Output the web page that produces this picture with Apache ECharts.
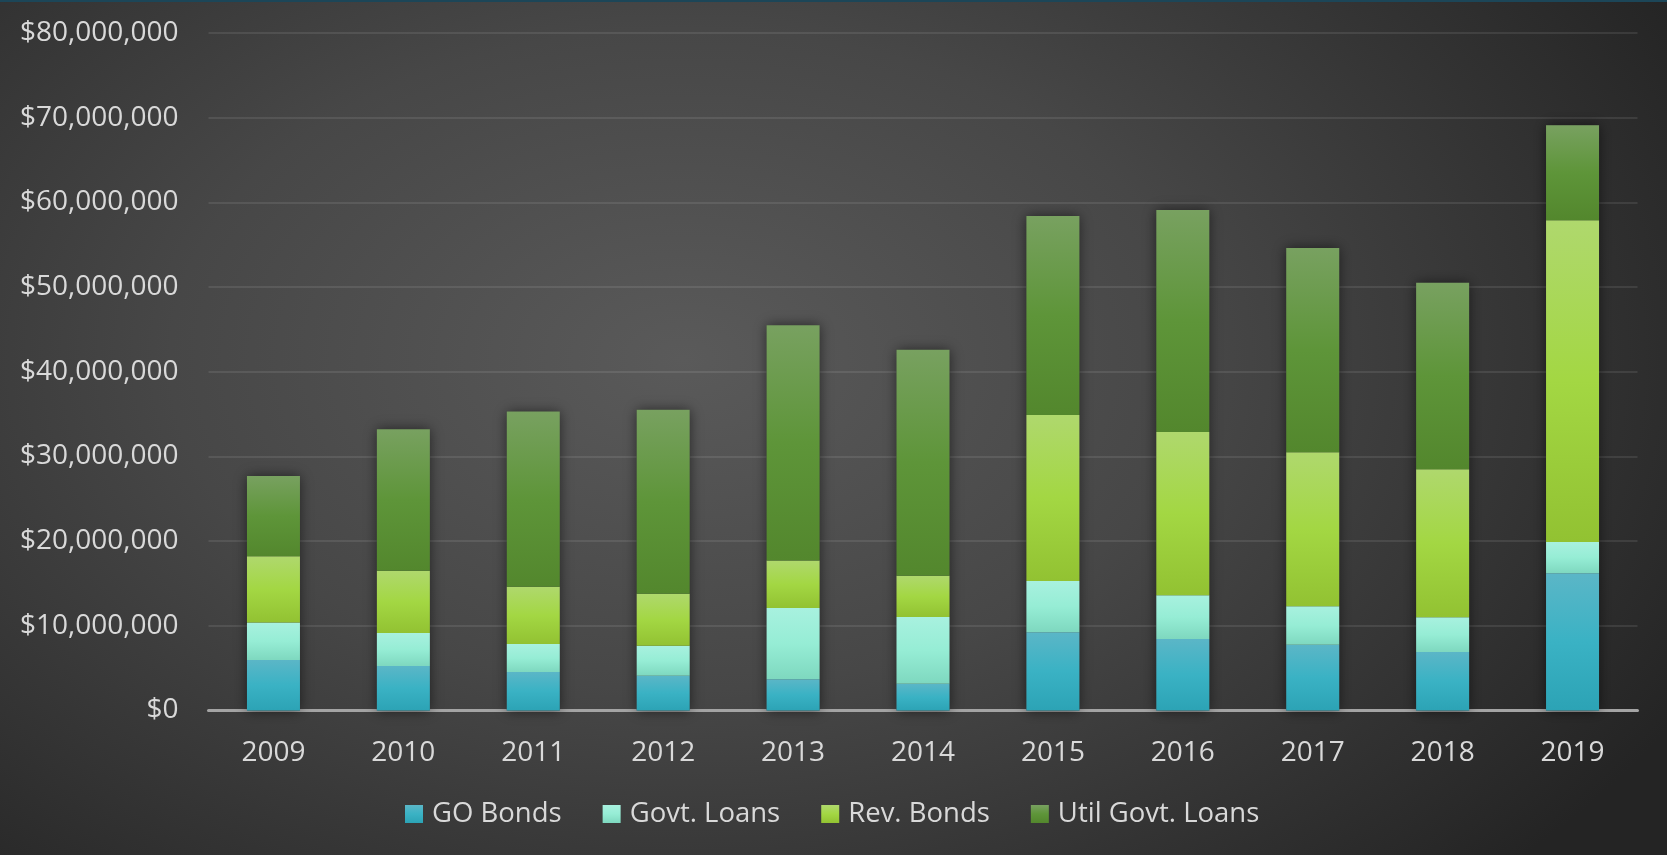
<!DOCTYPE html>
<html>
<head>
<meta charset="utf-8">
<title>Debt Issuance by Type, 2009–2019</title>
<script src="https://cdn.jsdelivr.net/npm/echarts@6/dist/echarts.min.js"></script>
<style>
  html, body { margin: 0; padding: 0; background: #2a2a2a; }
  #chart { width: 1667px; height: 855px; }
</style>
</head>
<body>
<div id="chart"></div>
<script>
// Fiscal years on the category axis
const years = ['2009', '2010', '2011', '2012', '2013', '2014', '2015', '2016', '2017', '2018', '2019'];

// Annual amounts by debt type (USD)
const goBonds      = [5950000, 5250000, 4550000, 4100000, 3700000, 3150000, 9250000, 8450000, 7750000, 6900000, 16200000];
const govtLoans    = [4450000, 3900000, 3300000, 3550000, 8400000, 7900000, 6050000, 5150000, 4550000, 4100000, 3700000];
const revBonds     = [7800000, 7350000, 6750000, 6150000, 5600000, 4850000, 19600000, 19300000, 18200000, 17500000, 38000000];
const utilGovtLoans = [9500000, 16700000, 20700000, 21700000, 27800000, 26700000, 23500000, 26200000, 24100000, 22000000, 11200000];

// Value axis ticks
const yStep = 10000000;
const yTickLabels = ['$0', '$10,000,000', '$20,000,000', '$30,000,000', '$40,000,000',
                     '$50,000,000', '$60,000,000', '$70,000,000', '$80,000,000'];

const seriesNames = ['GO Bonds', 'Govt. Loans', 'Rev. Bonds', 'Util Govt. Loans'];

// Column totals, used only for the soft shadow drawn behind each stack
const totals = years.map((_, i) => goBonds[i] + govtLoans[i] + revBonds[i] + utilGovtLoans[i]);

const FONT = '"Open Sans", "Noto Sans", sans-serif';
const TEXT = '#d9d9d9';

function vGrad(stops) {
  return {
    type: 'linear', x: 0, y: 0, x2: 0, y2: 1,
    colorStops: stops.map((c, i) => ({ offset: i / (stops.length - 1), color: c }))
  };
}

const palette = [
  vGrad(['#5bb6c7', '#3ab2c4', '#2ca3b5']),
  vGrad(['#a8f1df', '#96edd5', '#7ed8bf']),
  vGrad(['#afd86d', '#a3d743', '#92c232']),
  vGrad(['#78a160', '#5e9539', '#53872d'])
];

const W = 1667, H = 855, SX = 1.55;

const chart = echarts.init(document.getElementById('chart'), null, { renderer: 'canvas' });

function stackSeries(name, data, idx) {
  return {
    name: name,
    type: 'bar',
    stack: 'debt',
    data: data,
    barWidth: 53,
    z: 3,
    itemStyle: { color: palette[idx] },
    emphasis: { disabled: true }
  };
}

chart.setOption({
  animation: false,
  backgroundColor: '#2a2a2a',
  textStyle: { fontFamily: FONT },
  graphic: [
    {
      type: 'rect',
      z: -10,
      silent: true,
      scaleX: SX,
      shape: { x: 0, y: 0, width: W / SX, height: H },
      style: {
        fill: {
          type: 'radial', x: 0.41, y: 0.42, r: 0.86,
          colorStops: [
            { offset: 0, color: '#5a5a5a' },
            { offset: 0.45, color: '#474747' },
            { offset: 1, color: '#242424' }
          ]
        }
      }
    },
    {
      type: 'rect',
      z: -9,
      silent: true,
      shape: { x: 0, y: 0, width: W, height: 2 },
      style: { fill: '#1c4658' }
    }
  ],
  grid: { left: 208.5, right: 29.5, top: 33, bottom: 144.5, containLabel: false },
  legend: {
    data: seriesNames,
    left: 400,
    top: 795,
    icon: 'rect',
    itemWidth: 18,
    itemHeight: 18,
    itemGap: 41,
    selectedMode: false,
    textStyle: { color: TEXT, fontSize: 27.5, fontFamily: FONT, padding: [0, 0, 0, 4] }
  },
  xAxis: {
    type: 'category',
    data: years,
    axisLine: { show: true, lineStyle: { color: '#a4a4a4', width: 3 } },
    axisTick: { show: false },
    axisLabel: { color: TEXT, fontSize: 28, fontFamily: FONT, margin: 29 },
    splitLine: { show: false }
  },
  yAxis: {
    type: 'value',
    min: 0,
    max: yStep * (yTickLabels.length - 1),
    interval: yStep,
    axisLine: { show: false },
    axisTick: { show: false },
    axisLabel: {
      color: TEXT, fontSize: 28, fontFamily: FONT, margin: 30,
      formatter: v => yTickLabels[Math.round(v / yStep)]
    },
    splitLine: { lineStyle: { color: 'rgba(255,255,255,0.09)', width: 2 } }
  },
  series: [
    {
      name: 'shadow',
      type: 'bar',
      data: totals,
      barWidth: 53,
      barGap: '-100%',
      z: 2,
      silent: true,
      legendHoverLink: false,
      itemStyle: {
        color: '#3a3a3a',
        shadowBlur: 12,
        shadowColor: 'rgba(0,0,0,0.55)'
      },
      emphasis: { disabled: true }
    },
    stackSeries(seriesNames[0], goBonds, 0),
    stackSeries(seriesNames[1], govtLoans, 1),
    stackSeries(seriesNames[2], revBonds, 2),
    stackSeries(seriesNames[3], utilGovtLoans, 3)
  ]
});
</script>
</body>
</html>
